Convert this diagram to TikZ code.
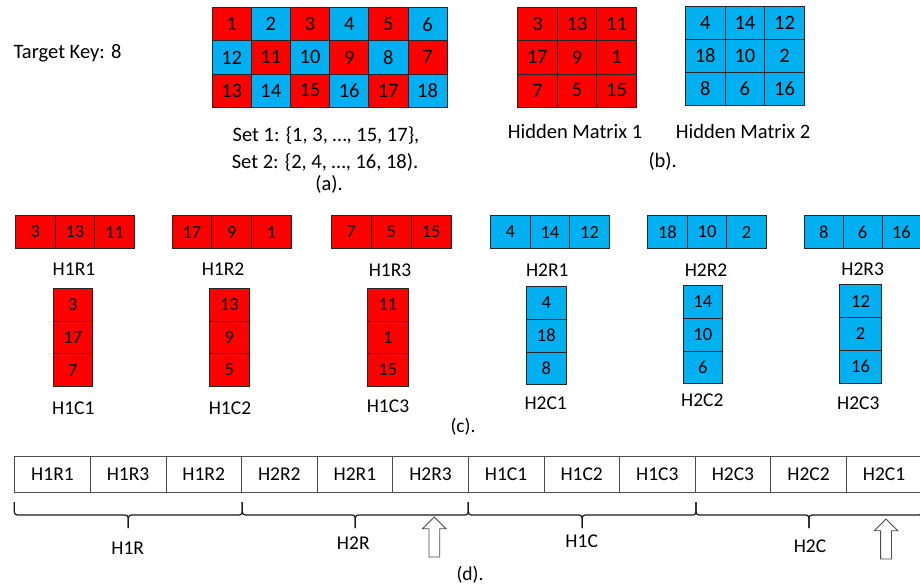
\documentclass[tikz,border=0pt]{standalone}
\usepackage{fontspec}
\setmainfont{Carlito}
\usetikzlibrary{calc,shapes.arrows}
\definecolor{cred}{RGB}{255,0,0}
\definecolor{cblue}{RGB}{0,176,240}
\newcommand\mkgrid[7]{%
  \foreach \rowvals [count=\r from 0] in {#6} {
    \foreach \v [count=\c from 0] in \rowvals {
      \ifodd\v\def\cc{cred}\else\def\cc{cblue}\fi
      \node[cell,fill=\cc,minimum width=#4pt,minimum height=#5pt,font=\fontsize{#7}{#7}\selectfont]
        (#1-\r-\c) at ({#2+\c*#4},{#3+\r*#5}) {\v};
    }}}
\begin{document}
\begin{tikzpicture}[x=1pt,y=-1pt,
  cell/.style={draw=black!85,line width=0.8pt,inner sep=0pt,anchor=north west},
  barcell/.style={draw=black!70,line width=0.8pt,inner sep=0pt,anchor=north west,
    minimum width=75.6pt,minimum height=36pt,font=\fontsize{19.5}{22}\selectfont},
  lbl/.style={inner sep=0pt,font=\fontsize{20.5}{24}\selectfont},
  lblc/.style={inner sep=0pt,font=\fontsize{19.5}{22}\selectfont},
  bracestyle/.style={line width=1.2pt,draw=black!90,rounded corners=3pt},
  uparrow/.style={single arrow,draw=black!70,fill=white,line width=0.8pt,rotate=90,
    minimum height=40pt,minimum width=22.5pt,inner sep=5pt,single arrow head extend=6.25pt}]
\clip (0,0) rectangle (920,586);
% (a)
\node[lbl] (key) at (67.5,53) {Target Key: 8};
\mkgrid{a}{211.7}{7.3}{39.17}{33.1}{{1,2,3,4,5,6},{12,11,10,9,8,7},{13,14,15,16,17,18}}{20.5}
\node[lbl] (set1) at (326,135) {Set 1: \{1, 3, …, 15, 17\},};
\node[lbl] (set2) at (325,162) {Set 2: \{2, 4, …, 16, 18).};
\node[lbl] (capa) at (329,184) {(a).};
% (b)
\mkgrid{hm1}{517.3}{7.3}{39.57}{33.1}{{3,13,11},{17,9,1},{7,5,15}}{20.5}
\mkgrid{hm2}{685}{5.7}{39.67}{33.1}{{4,14,12},{18,10,2},{8,6,16}}{20.5}
\node[lbl] (hm1l) at (575,131.5) {Hidden Matrix 1};
\node[lbl] (hm2l) at (743,131.5) {Hidden Matrix 2};
\node[lbl] (capb) at (662.7,161.5) {(b).};
% (c) rows
\mkgrid{h1r1}{15}{215}{39.67}{33.3}{{3,13,11}}{18.5}
\mkgrid{h1r2}{171.7}{215}{39.77}{33.3}{{17,9,1}}{18.5}
\mkgrid{h1r3}{331}{215}{39.9}{33.3}{{7,5,15}}{18.5}
\mkgrid{h2r1}{490}{215}{39.67}{33.3}{{4,14,12}}{18.5}
\mkgrid{h2r2}{647.3}{215}{39.57}{33.3}{{18,10,2}}{18.5}
\mkgrid{h2r3}{804}{215}{38.8}{33.3}{{8,6,16}}{18.5}
\node[lblc] (lh1r1) at (74,269.5) {H1R1};
\node[lblc] (lh1r2) at (223,269.5) {H1R2};
\node[lblc] (lh1r3) at (390,270.5) {H1R3};
\node[lblc] (lh2r1) at (547.3,270) {H2R1};
\node[lblc] (lh2r2) at (706,270) {H2R2};
\node[lblc] (lh2r3) at (862.7,269.5) {H2R3};
% (c) columns
\mkgrid{h1c1}{52.7}{287.7}{39.4}{32.8}{{3},{17},{7}}{18.5}
\mkgrid{h1c2}{209.3}{287.7}{39.4}{32.8}{{13},{9},{5}}{18.5}
\mkgrid{h1c3}{366.7}{287.7}{41.6}{32.8}{{11},{1},{15}}{18.5}
\mkgrid{h2c1}{526}{286}{39.7}{32.8}{{4},{18},{8}}{18.5}
\mkgrid{h2c2}{682.7}{285}{39.3}{32.8}{{14},{10},{6}}{18.5}
\mkgrid{h2c3}{839.3}{284.3}{41.7}{32.8}{{12},{2},{16}}{18.5}
\node[lblc] (lh1c1) at (73.3,408.3) {H1C1};
\node[lblc] (lh1c2) at (230,408.3) {H1C2};
\node[lblc] (lh1c3) at (388,406.7) {H1C3};
\node[lblc] (lh2c1) at (545.7,403.3) {H2C1};
\node[lblc] (lh2c2) at (702.3,400) {H2C2};
\node[lblc] (lh2c3) at (858.3,403.3) {H2C3};
\node[lblc] (capc) at (463,426.5) {(c).};
% (d)
\foreach \t [count=\i from 0] in {H1R1,H1R3,H1R2,H2R2,H2R1,H2R3,H1C1,H1C2,H1C3,H2C3,H2C2,H2C1}
  \node[barcell] (d\i) at ({14.3+\i*75.6},455.7) {\t};
\coordinate (b0) at (14.3,502);
\coordinate (b1) at (242.3,502);
\coordinate (b2) at (468.3,502);
\coordinate (b3) at (696,502);
\coordinate (b4) at (922,502);
\foreach \s/\e in {b0/b1,b1/b2,b2/b3,b3/b4} {
  \draw[bracestyle] (\s) |- ($(\s)!0.5!(\e)+(0,13)$) -- ++(0,13);
  \draw[bracestyle] (\e) |- ($(\s)!0.5!(\e)+(0,13)$) -- ++(0,13);
}
\node[lblc] (lh1r) at (127.7,548.3) {H1R};
\node[lblc] (lh2r) at (353.3,543.3) {H2R};
\node[lblc] (lh1c) at (581.7,541.7) {H1C};
\node[lblc] (lh2c) at (810,546.7) {H2C};
\node[uparrow] (arr1) at (434.3,539.7) {};
\node[uparrow] (arr2) at (886,541.7) {};
\node[lblc] (capd) at (470,575) {(d).};
\end{tikzpicture}
\end{document}
